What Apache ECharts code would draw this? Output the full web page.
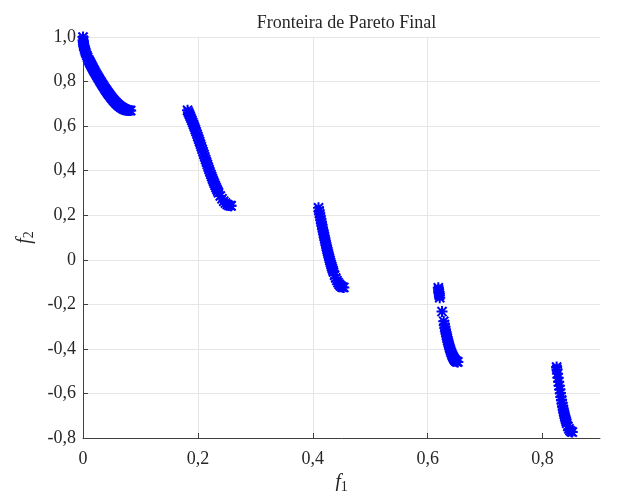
<!DOCTYPE html>
<html>
<head>
<meta charset="utf-8">
<script src="https://cdn.jsdelivr.net/npm/echarts@6/dist/echarts.min.js"></script>
<style>
  html, body { margin: 0; padding: 0; background: #fff; }
  #chart { width: 618px; height: 491px; }
</style>
</head>
<body>
<div id="chart"></div>
<script>
// Final Pareto front, five disconnected pieces (f1, f2 pairs per piece)
const front1F1 = [0, 0.0002, 0.0005, 0.001, 0.0015, 0.002, 0.003, 0.004, 0.005, 0.0065, 0.008, 0.010, 0.011, 0.012, 0.013, 0.014, 0.015, 0.016, 0.017, 0.018, 0.019, 0.020, 0.0215, 0.023, 0.0245, 0.026, 0.0275, 0.029, 0.0305, 0.032, 0.0335, 0.035, 0.0365, 0.038, 0.0395, 0.041, 0.0425, 0.044, 0.0455, 0.047, 0.0485, 0.050, 0.0515, 0.053, 0.0545, 0.056, 0.0575, 0.059, 0.0605, 0.062, 0.0635, 0.065, 0.0665, 0.068, 0.0695, 0.071, 0.0725, 0.074, 0.0755, 0.077, 0.0785, 0.080, 0.0815, 0.083];
const front1F2 = [1.0, 0.9859, 0.9776, 0.9683, 0.9612, 0.9552, 0.9449, 0.9362, 0.9285, 0.9181, 0.9086, 0.8969, 0.8914, 0.8860, 0.8808, 0.8757, 0.8707, 0.8658, 0.8610, 0.8562, 0.8515, 0.8468, 0.8399, 0.8331, 0.8264, 0.8198, 0.8133, 0.8068, 0.8004, 0.7941, 0.7879, 0.7817, 0.7757, 0.7697, 0.7639, 0.7581, 0.7525, 0.7470, 0.7416, 0.7364, 0.7313, 0.7264, 0.7216, 0.7170, 0.7126, 0.7083, 0.7043, 0.7004, 0.6968, 0.6934, 0.6901, 0.6871, 0.6844, 0.6818, 0.6795, 0.6774, 0.6756, 0.6740, 0.6727, 0.6716, 0.6707, 0.6701, 0.6698, 0.6697];

const front2F1 = [0.182, 0.1835, 0.185, 0.1865, 0.188, 0.1895, 0.191, 0.1925, 0.194, 0.1955, 0.197, 0.1985, 0.200, 0.2015, 0.203, 0.2045, 0.206, 0.2075, 0.209, 0.2105, 0.212, 0.2135, 0.215, 0.2165, 0.218, 0.2195, 0.221, 0.2225, 0.224, 0.2255, 0.227, 0.2285, 0.230, 0.2315, 0.233, 0.2345, 0.236, 0.239, 0.242, 0.245, 0.248, 0.251, 0.254, 0.257, 0.2578];
const front2F2 = [0.6709, 0.6626, 0.6539, 0.6449, 0.6356, 0.6261, 0.6163, 0.6062, 0.5959, 0.5854, 0.5747, 0.5638, 0.5528, 0.5416, 0.5303, 0.5190, 0.5075, 0.4961, 0.4845, 0.4730, 0.4615, 0.4501, 0.4387, 0.4274, 0.4163, 0.4053, 0.3944, 0.3838, 0.3734, 0.3632, 0.3533, 0.3437, 0.3344, 0.3254, 0.3168, 0.3085, 0.3007, 0.2862, 0.2737, 0.2630, 0.2545, 0.2481, 0.2440, 0.2423, 0.2422];

const front3F1 = [0.410, 0.411, 0.412, 0.413, 0.414, 0.415, 0.416, 0.417, 0.418, 0.419, 0.420, 0.421, 0.422, 0.423, 0.424, 0.425, 0.426, 0.427, 0.428, 0.429, 0.430, 0.431, 0.432, 0.433, 0.434, 0.435, 0.436, 0.438, 0.440, 0.442, 0.444, 0.446, 0.448, 0.450, 0.452, 0.454];
const front3F2 = [0.2330, 0.2197, 0.2065, 0.1934, 0.1803, 0.1674, 0.1546, 0.1420, 0.1295, 0.1172, 0.1051, 0.0931, 0.0814, 0.0699, 0.0586, 0.0476, 0.0368, 0.0263, 0.0160, 0.0060, -0.0036, -0.0130, -0.0220, -0.0307, -0.0391, -0.0471, -0.0548, -0.0691, -0.0818, -0.0930, -0.1025, -0.1103, -0.1164, -0.1208, -0.1234, -0.1242];

const front4F1 = [0.6185, 0.619, 0.6195, 0.620, 0.6205, 0.621, 0.625, 0.628, 0.629, 0.630, 0.631, 0.632, 0.633, 0.634, 0.635, 0.636, 0.637, 0.638, 0.639, 0.640, 0.641, 0.642, 0.643, 0.644, 0.645, 0.646, 0.647, 0.648, 0.649, 0.650, 0.651, 0.6525];
const front4F2 = [-0.1260, -0.1347, -0.1449, -0.1518, -0.1603, -0.1702, -0.2325, -0.2763, -0.2901, -0.3034, -0.3163, -0.3286, -0.3404, -0.3518, -0.3627, -0.3730, -0.3828, -0.3920, -0.4006, -0.4087, -0.4162, -0.4231, -0.4294, -0.4351, -0.4402, -0.4446, -0.4485, -0.4517, -0.4543, -0.4562, -0.4575, -0.4584];

const front5F1 = [0.8245, 0.825, 0.826, 0.827, 0.828, 0.829, 0.830, 0.831, 0.832, 0.833, 0.834, 0.835, 0.836, 0.837, 0.838, 0.839, 0.840, 0.841, 0.842, 0.844, 0.846, 0.848, 0.850, 0.8518];
const front5F2 = [-0.4818, -0.4917, -0.5110, -0.5297, -0.5479, -0.5656, -0.5825, -0.5989, -0.6146, -0.6297, -0.6441, -0.6578, -0.6707, -0.6831, -0.6946, -0.7054, -0.7154, -0.7247, -0.7332, -0.7478, -0.7591, -0.7672, -0.7720, -0.7733];

// Axis tick positions
const xTicks = [0, 0.2, 0.4, 0.6, 0.8];
const yTicks = [-0.8, -0.6, -0.4, -0.2, 0, 0.2, 0.4, 0.6, 0.8, 1.0];

const pairs = (a, b) => a.map((v, i) => [v, b[i]]);
const points = [].concat(
  pairs(front1F1, front1F2),
  pairs(front2F1, front2F2),
  pairs(front3F1, front3F2),
  pairs(front4F1, front4F2),
  pairs(front5F1, front5F2)
);

// comma decimal separator; whole numbers without decimals
const fmt = v => {
  const r = Math.round(v * 10) / 10;
  if (r === 0) return '0';
  return r.toFixed(1).replace('.', ',');
};

// eight-spoke asterisk marker
const asterisk = 'path://M4.1 0H5.9V10H4.1Z M0 4.1H10V5.9H0Z M1.5 0.2L9.8 8.5L8.5 9.8L0.2 1.5Z M8.5 0.2L9.8 1.5L1.5 9.8L0.2 8.5Z';

const FONT = '"Liberation Serif", "DejaVu Serif", serif';
const TXT = '#262626';
const AX = '#404040';
const GRID = '#e6e6e6';

const chart = echarts.init(document.getElementById('chart'), null, { renderer: 'canvas' });
chart.setOption({
  animation: false,
  backgroundColor: '#ffffff',
  title: {
    text: 'Fronteira de Pareto Final',
    left: 341.5,
    textAlign: 'center',
    top: 9,
    textStyle: { fontFamily: FONT, fontSize: 18, fontWeight: 'normal', color: TXT }
  },
  grid: { left: 83, right: 18, top: 37, bottom: 53, containLabel: false, outerBoundsMode: 'none' },
  xAxis: {
    type: 'value',
    min: 0,
    max: 0.9,
    interval: 0.2,
    name: '{i|f}{s|1}',
    nameLocation: 'middle',
    nameGap: 31,
    nameTextStyle: {
      rich: {
        i: { fontFamily: FONT, fontStyle: 'italic', fontSize: 20, color: TXT },
        s: { fontFamily: FONT, fontSize: 14, color: TXT, verticalAlign: 'bottom', padding: [9, 0, 0, 0] }
      }
    },
    axisLine: { show: true, onZero: false, lineStyle: { color: AX, width: 1 } },
    axisTick: { show: true, inside: true, length: 5, customValues: xTicks, lineStyle: { color: AX } },
    axisLabel: {
      customValues: xTicks,
      formatter: fmt,
      margin: 12,
      fontFamily: FONT, fontSize: 18, color: TXT
    },
    splitLine: { show: true, showMinLine: false, showMaxLine: false, lineStyle: { color: GRID, width: 1 } }
  },
  yAxis: {
    type: 'value',
    min: -0.8,
    max: 1.0,
    interval: 0.2,
    name: '{i|f}{s|2}',
    nameLocation: 'middle',
    nameRotate: 90,
    nameGap: 44,
    nameTextStyle: {
      rich: {
        i: { fontFamily: FONT, fontStyle: 'italic', fontSize: 20, color: TXT },
        s: { fontFamily: FONT, fontSize: 14, color: TXT, verticalAlign: 'bottom', padding: [9, 0, 0, 0] }
      }
    },
    axisLine: { show: true, onZero: false, lineStyle: { color: AX, width: 1 } },
    axisTick: { show: true, inside: true, length: 5, customValues: yTicks, lineStyle: { color: AX } },
    axisLabel: {
      customValues: yTicks,
      formatter: fmt,
      margin: 7,
      fontFamily: FONT, fontSize: 18, color: TXT
    },
    splitLine: { show: true, showMinLine: false, showMaxLine: true, lineStyle: { color: GRID, width: 1 } }
  },
  series: [{
    type: 'scatter',
    data: points,
    symbol: asterisk,
    symbolSize: 11,
    itemStyle: { color: '#0000ff', opacity: 1 },
    clip: false
  }]
});
</script>
</body>
</html>
